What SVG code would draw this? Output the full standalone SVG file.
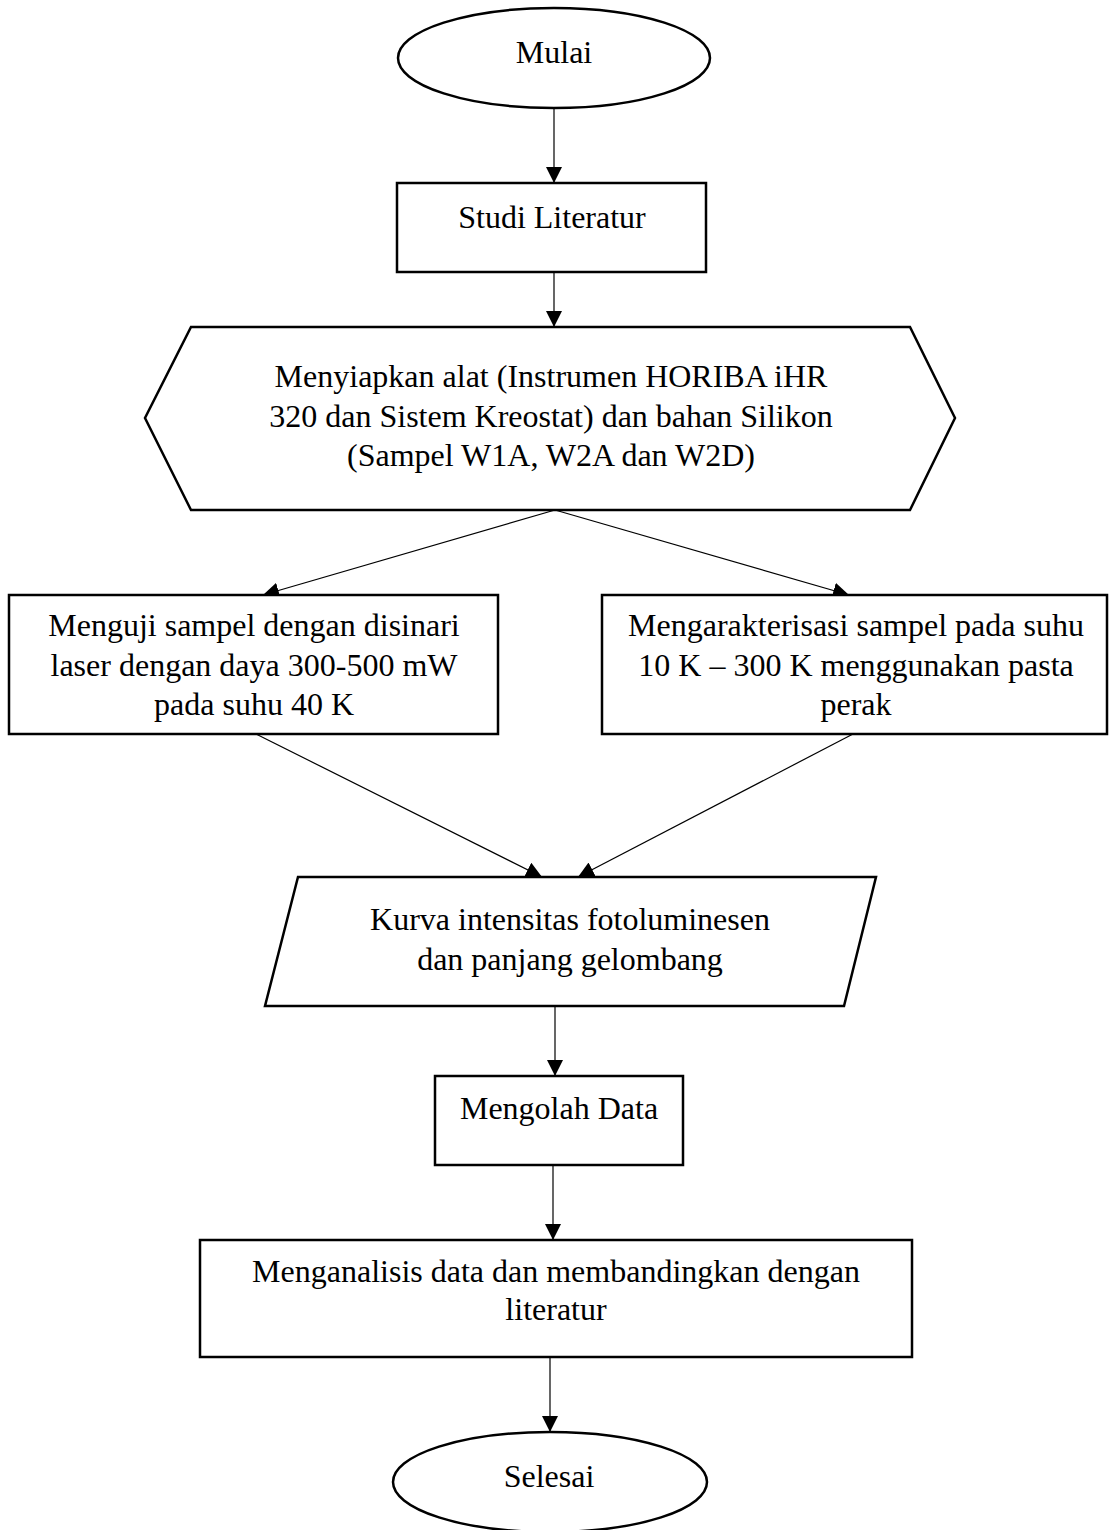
<svg xmlns="http://www.w3.org/2000/svg" width="1109" height="1530" viewBox="0 0 1109 1530">
<style>
.shape{fill:#fff;stroke:#000;stroke-width:2.5}
.conn{fill:none;stroke:#000;stroke-width:1.2}
text{font-family:"Liberation Serif","Times New Roman",serif;font-size:32px;fill:#000;text-anchor:middle}
</style>
<defs>
<marker id="arr" markerUnits="userSpaceOnUse" markerWidth="16" markerHeight="16" viewBox="0 0 14 14" refX="14" refY="7" orient="auto">
<path d="M0,0 L14,7 L0,14 Z" fill="#000"/>
</marker>
</defs>
<rect width="1109" height="1530" fill="#fff"/>
<g id="connectors">
<line class="conn" x1="554" y1="108" x2="554" y2="183" marker-end="url(#arr)"/>
<line class="conn" x1="554" y1="272" x2="554" y2="327" marker-end="url(#arr)"/>
<line class="conn" x1="555" y1="510" x2="263" y2="595" marker-end="url(#arr)"/>
<line class="conn" x1="555" y1="510" x2="849" y2="595" marker-end="url(#arr)"/>
<line class="conn" x1="256" y1="734" x2="542" y2="877" marker-end="url(#arr)"/>
<line class="conn" x1="853" y1="734" x2="578" y2="877" marker-end="url(#arr)"/>
<line class="conn" x1="555" y1="1006" x2="555" y2="1076" marker-end="url(#arr)"/>
<line class="conn" x1="553" y1="1165" x2="553" y2="1240" marker-end="url(#arr)"/>
<line class="conn" x1="550" y1="1357" x2="550" y2="1432" marker-end="url(#arr)"/>
</g>
<g id="mulai">
<ellipse class="shape" cx="554" cy="58" rx="156" ry="50"/>
<text x="554" y="63">Mulai</text>
</g>
<g id="studi">
<rect class="shape" x="397" y="183" width="309" height="89"/>
<text x="552" y="228">Studi Literatur</text>
</g>
<g id="persiapan">
<polygon class="shape" points="191,327 910,327 955,418 910,510 191,510 145,418"/>
<text x="551" y="387">Menyiapkan alat (Instrumen HORIBA iHR</text>
<text x="551" y="427">320 dan Sistem Kreostat) dan bahan Silikon</text>
<text x="551" y="466">(Sampel W1A, W2A dan W2D)</text>
</g>
<g id="menguji">
<rect class="shape" x="9" y="595" width="489" height="139"/>
<text x="254" y="636">Menguji sampel dengan disinari</text>
<text x="254" y="676">laser dengan daya 300-500 mW</text>
<text x="254" y="715">pada suhu 40 K</text>
</g>
<g id="karakterisasi">
<rect class="shape" x="602" y="595" width="505" height="139"/>
<text x="856" y="636">Mengarakterisasi sampel pada suhu</text>
<text x="856" y="676">10 K – 300 K menggunakan pasta</text>
<text x="856" y="715">perak</text>
</g>
<g id="kurva">
<polygon class="shape" points="298,877 876,877 844,1006 265,1006"/>
<text x="570" y="930">Kurva intensitas fotoluminesen</text>
<text x="570" y="970">dan panjang gelombang</text>
</g>
<g id="mengolah">
<rect class="shape" x="435" y="1076" width="248" height="89"/>
<text x="559" y="1119">Mengolah Data</text>
</g>
<g id="menganalisis">
<rect class="shape" x="200" y="1240" width="712" height="117"/>
<text x="556" y="1282">Menganalisis data dan membandingkan dengan</text>
<text x="556" y="1320">literatur</text>
</g>
<g id="selesai">
<ellipse class="shape" cx="550" cy="1482" rx="157" ry="50"/>
<text x="549" y="1487">Selesai</text>
</g>
</svg>
